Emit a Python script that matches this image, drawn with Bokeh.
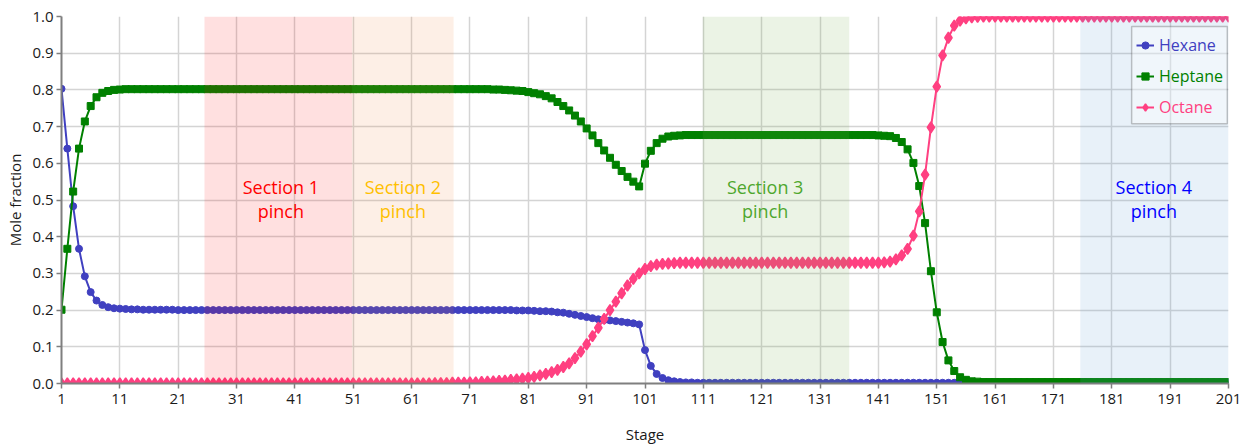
from bokeh.plotting import figure
from bokeh.models import (Range1d, FixedTicker, BoxAnnotation, Legend, LegendItem,
                          Label, ColumnDataSource, CustomJSTickFormatter)
from bokeh.embed import file_html
from bokeh.resources import INLINE

stages = list(range(1, 202))

hexane = [
    0.803, 0.640, 0.483, 0.367, 0.292, 0.249, 0.226, 0.214, 0.208, 0.205,
    0.204, 0.203, 0.202, 0.202, 0.201, 0.201, 0.201, 0.201, 0.201, 0.201,
    0.200, 0.200, 0.200, 0.200, 0.200, 0.200, 0.200, 0.200, 0.200, 0.200,
    0.200, 0.200, 0.200, 0.200, 0.200, 0.200, 0.200, 0.200, 0.200, 0.200,
    0.200, 0.200, 0.200, 0.200, 0.200, 0.200, 0.200, 0.200, 0.200, 0.200,
    0.200, 0.200, 0.200, 0.200, 0.200, 0.200, 0.200, 0.200, 0.200, 0.200,
    0.200, 0.200, 0.200, 0.200, 0.200, 0.200, 0.200, 0.200, 0.200, 0.200,
    0.200, 0.200, 0.200, 0.200, 0.200, 0.200, 0.200, 0.200, 0.199, 0.199,
    0.199, 0.198, 0.197, 0.197, 0.196, 0.194, 0.193, 0.190, 0.187, 0.184,
    0.181, 0.178, 0.175, 0.173, 0.172, 0.170, 0.168, 0.166, 0.164, 0.161,
    0.091, 0.048, 0.026, 0.015, 0.009, 0.006, 0.004, 0.003, 0.003, 0.002,
    0.002, 0.002, 0.002, 0.002, 0.002, 0.002, 0.002, 0.002, 0.002, 0.002,
    0.002, 0.002, 0.002, 0.002, 0.002, 0.002, 0.002, 0.002, 0.002, 0.002,
    0.002, 0.002, 0.002, 0.002, 0.002, 0.002, 0.002, 0.002, 0.002, 0.002,
    0.002, 0.002, 0.002, 0.002, 0.002, 0.002, 0.002, 0.002, 0.002, 0.002,
    0.002, 0.002, 0.002, 0.002, 0.002, 0.002, 0.001, 0.001, 0.001, 0.001,
    0.001, 0.001, 0.001, 0.001, 0.001, 0.001, 0.001, 0.001, 0.001, 0.001,
    0.001, 0.001, 0.001, 0.001, 0.001, 0.001, 0.001, 0.001, 0.001, 0.001,
    0.001, 0.001, 0.001, 0.001, 0.001, 0.001, 0.001, 0.001, 0.001, 0.001,
    0.001, 0.001, 0.001, 0.001, 0.001, 0.001, 0.001, 0.001, 0.001, 0.001,
    0.001,
]

heptane = [
    0.201, 0.367, 0.523, 0.640, 0.714, 0.756, 0.780, 0.792, 0.797, 0.800,
    0.801, 0.802, 0.802, 0.802, 0.802, 0.802, 0.802, 0.802, 0.802, 0.802,
    0.802, 0.802, 0.802, 0.802, 0.802, 0.802, 0.802, 0.802, 0.802, 0.802,
    0.802, 0.802, 0.802, 0.802, 0.802, 0.802, 0.802, 0.802, 0.802, 0.802,
    0.802, 0.802, 0.802, 0.802, 0.802, 0.802, 0.802, 0.802, 0.802, 0.802,
    0.802, 0.802, 0.802, 0.802, 0.802, 0.802, 0.802, 0.802, 0.802, 0.802,
    0.802, 0.802, 0.802, 0.802, 0.802, 0.802, 0.802, 0.802, 0.802, 0.802,
    0.802, 0.802, 0.802, 0.802, 0.801, 0.801, 0.800, 0.799, 0.798, 0.797,
    0.794, 0.791, 0.788, 0.783, 0.777, 0.767, 0.756, 0.744, 0.730, 0.714,
    0.695, 0.676, 0.655, 0.635, 0.615, 0.596, 0.579, 0.563, 0.550, 0.537,
    0.599, 0.634, 0.655, 0.667, 0.673, 0.675, 0.676, 0.677, 0.677, 0.677,
    0.677, 0.677, 0.677, 0.677, 0.677, 0.677, 0.677, 0.677, 0.677, 0.677,
    0.677, 0.677, 0.677, 0.677, 0.677, 0.677, 0.677, 0.677, 0.677, 0.677,
    0.677, 0.677, 0.677, 0.677, 0.677, 0.677, 0.677, 0.677, 0.677, 0.677,
    0.676, 0.675, 0.674, 0.669, 0.658, 0.638, 0.601, 0.538, 0.437, 0.306,
    0.194, 0.113, 0.063, 0.034, 0.017, 0.010, 0.006, 0.005, 0.004, 0.004,
    0.004, 0.004, 0.004, 0.004, 0.004, 0.004, 0.004, 0.004, 0.004, 0.004,
    0.004, 0.004, 0.004, 0.004, 0.004, 0.004, 0.004, 0.004, 0.004, 0.004,
    0.004, 0.004, 0.004, 0.004, 0.004, 0.004, 0.004, 0.004, 0.004, 0.004,
    0.004, 0.004, 0.004, 0.004, 0.004, 0.004, 0.004, 0.004, 0.004, 0.004,
    0.004,
]

octane = [
    0.000, 0.000, 0.000, 0.000, 0.000, 0.000, 0.000, 0.000, 0.000, 0.000,
    0.000, 0.000, 0.000, 0.000, 0.000, 0.000, 0.000, 0.000, 0.000, 0.000,
    0.000, 0.000, 0.000, 0.000, 0.000, 0.000, 0.000, 0.000, 0.000, 0.000,
    0.000, 0.000, 0.000, 0.000, 0.000, 0.000, 0.000, 0.000, 0.000, 0.000,
    0.000, 0.000, 0.000, 0.000, 0.000, 0.000, 0.000, 0.000, 0.000, 0.000,
    0.000, 0.000, 0.000, 0.000, 0.000, 0.000, 0.000, 0.000, 0.000, 0.000,
    0.000, 0.000, 0.000, 0.000, 0.001, 0.001, 0.001, 0.002, 0.002, 0.002,
    0.003, 0.003, 0.004, 0.005, 0.006, 0.007, 0.008, 0.010, 0.011, 0.013,
    0.015, 0.018, 0.022, 0.026, 0.031, 0.037, 0.045, 0.055, 0.069, 0.087,
    0.107, 0.129, 0.152, 0.176, 0.200, 0.223, 0.246, 0.267, 0.285, 0.300,
    0.312, 0.320, 0.324, 0.326, 0.327, 0.328, 0.329, 0.329, 0.329, 0.329,
    0.329, 0.329, 0.329, 0.329, 0.329, 0.329, 0.329, 0.329, 0.329, 0.329,
    0.329, 0.329, 0.329, 0.329, 0.329, 0.329, 0.329, 0.329, 0.329, 0.329,
    0.329, 0.329, 0.329, 0.329, 0.329, 0.329, 0.329, 0.329, 0.329, 0.329,
    0.329, 0.330, 0.332, 0.338, 0.349, 0.367, 0.403, 0.469, 0.569, 0.698,
    0.809, 0.894, 0.942, 0.975, 0.989, 0.995, 0.998, 0.999, 1.000, 1.000,
    1.000, 1.000, 1.000, 1.000, 1.000, 1.000, 1.000, 1.000, 1.000, 1.000,
    1.000, 1.000, 1.000, 1.000, 1.000, 1.000, 1.000, 1.000, 1.000, 1.000,
    1.000, 1.000, 1.000, 1.000, 1.000, 1.000, 1.000, 1.000, 1.000, 1.000,
    1.000, 1.000, 1.000, 1.000, 1.000, 1.000, 1.000, 1.000, 1.000, 1.000,
    1.000,
]

series_names = ["Hexane", "Heptane", "Octane"]
series_colors = ["#4040c0", "#008000", "#ff4081"]
series_markers = ["circle", "square", "diamond"]
series_marker_sizes = [7, 7, 11]
series_marker_lw = [1, 1, 1.5]

section_labels = ["Section 1\npinch", "Section 2\npinch", "Section 3\npinch", "Section 4\npinch"]
section_starts = [25.5, 50.8, 110.9, 175.6]
section_ends = [50.8, 68.2, 136.0, 201.0]
section_fills = ["#ff0000", "#ed7d31", "#70ad47", "#5b9bd5"]
section_alphas = [0.12, 0.12, 0.14, 0.14]
section_text_colors = ["#ff0000", "#ffc000", "#4ea72e", "#0000ff"]
section_label_x = [38.6, 59.5, 121.6, 188.2]
section_label_y = 0.503

x_ticks = list(range(1, 202, 10))
y_ticks = [0.0, 0.1, 0.2, 0.3, 0.4, 0.5, 0.6, 0.7, 0.8, 0.9, 1.0]

assert len(hexane) == len(heptane) == len(octane) == len(stages) == 201

FONT = "Open Sans"

p = figure(width=1242, height=446, output_backend="svg", toolbar_location=None,
           x_range=Range1d(1, 201), y_range=Range1d(0, 1),
           min_border_left=61, min_border_right=14, min_border_top=16,
           min_border_bottom=63)
p.outline_line_color = None
p.background_fill_color = "white"

for ax in (p.xaxis[0], p.yaxis[0]):
    ax.axis_line_color = "#7f7f7f"
    ax.axis_line_width = 2
    ax.major_tick_line_color = "#7f7f7f"
    ax.major_tick_line_width = 1.5
    ax.major_tick_out = 5
    ax.major_tick_in = 0
    ax.minor_tick_line_color = None
    ax.major_label_text_font = FONT
    ax.major_label_text_font_size = "15px"
    ax.major_label_text_color = "#1a1a1a"
    ax.axis_label_text_font = FONT
    ax.axis_label_text_font_size = "15px"
    ax.axis_label_text_font_style = "normal"
    ax.axis_label_text_color = "#1a1a1a"

p.xaxis.ticker = FixedTicker(ticks=x_ticks)
p.yaxis.ticker = FixedTicker(ticks=y_ticks)
p.yaxis.formatter = CustomJSTickFormatter(code="return tick.toFixed(1);")
p.xaxis.axis_label = "Stage"
p.yaxis.axis_label = "Mole fraction"
p.xaxis.major_label_standoff = 5
p.yaxis.major_label_standoff = 3
p.xaxis.axis_label_standoff = 17
p.yaxis.axis_label_standoff = 4

p.xgrid.ticker = FixedTicker(ticks=x_ticks)
p.ygrid.ticker = FixedTicker(ticks=y_ticks)
for g in (p.xgrid[0], p.ygrid[0]):
    g.grid_line_color = "#d4d4d4"
    g.grid_line_width = 1.5

source = ColumnDataSource(data=dict(stage=stages, Hexane=hexane, Heptane=heptane, Octane=octane))

renderers = []
for name, col, mk, ms, mlw in zip(series_names, series_colors, series_markers,
                                  series_marker_sizes, series_marker_lw):
    rl = p.line("stage", name, source=source, line_color=col, line_width=2)
    rp = p.scatter("stage", name, source=source, marker=mk, size=ms,
                   fill_color=col, line_color=col, line_width=mlw)
    renderers.append((rl, rp))

for s0, s1, fc, fa in zip(section_starts, section_ends, section_fills, section_alphas):
    p.add_layout(BoxAnnotation(left=s0, right=s1, fill_color=fc, fill_alpha=fa,
                               line_color=None))

# legend frame
p.add_layout(BoxAnnotation(left=184.4, right=200.8, bottom=0.708, top=0.973,
                           fill_color="white", fill_alpha=0.35,
                           line_color="#404040", line_width=1.5))

legend_bottoms = [327, 296, 265]
for name, col, (rl, rp), yb in zip(series_names, series_colors, renderers, legend_bottoms):
    leg = Legend(items=[LegendItem(label=name, renderers=[rl, rp])],
                 location=(1075, yb), padding=0, margin=0, spacing=0,
                 glyph_width=18, glyph_height=20, label_height=20,
                 label_standoff=5, label_text_font=FONT,
                 label_text_font_size="16px", label_text_color=col,
                 background_fill_alpha=0, border_line_alpha=0)
    p.add_layout(leg)

for txt, lx, tc in zip(section_labels, section_label_x, section_text_colors):
    p.add_layout(Label(x=lx, y=section_label_y, text=txt, text_align="center",
                       text_baseline="middle", text_color=tc, text_font=FONT,
                       text_font_size="18px", text_line_height=1.0))

open("out.html", "w").write(file_html(p, INLINE))
